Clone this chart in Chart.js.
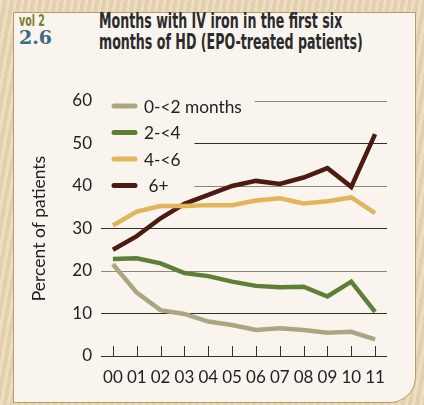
<!DOCTYPE html>
<html>
<head>
<meta charset="utf-8">
<script src="https://cdn.jsdelivr.net/npm/chart.js@4/dist/chart.umd.min.js"></script>
<style>
  html, body { margin: 0; padding: 0; }
  body {
    width: 424px; height: 405px; overflow: hidden; position: relative;
    background: #e8d6b6;
    background-image: repeating-linear-gradient(100deg, rgba(255,255,255,0.18) 0 3px, rgba(190,160,110,0.12) 3px 7px);
  }
  #panel {
    position: absolute; left: 13px; top: 12px; width: 403px; height: 391px;
    background: #f9f5ee; border: 1.5px solid #b99a6c; border-bottom-right-radius: 26px;
    box-sizing: border-box;
  }
  .cond { white-space: nowrap; transform-origin: 0 0; font-family: "Liberation Sans Narrow", "DejaVu Sans Condensed", "Roboto", sans-serif; font-weight: bold; }
  #vol { position: absolute; left: 19px; top: 12px; font-size: 15px; color: #7b7c2e; }
  #num {
    position: absolute; left: 19px; top: 26px; font-family: "DejaVu Serif", "Liberation Serif", serif;
    font-weight: bold; font-size: 19px; color: #3d6a80;
  }
  #title { position: absolute; left: 99px; top: 11px; font-size: 21px; line-height: 21px; color: #2b2b2b; }
  #c { position: absolute; left: 0; top: 0; }
</style>
</head>
<body>
<div id="panel"></div>
<div id="vol" class="cond">vol 2</div>
<div id="num">2.6</div>
<div id="title" class="cond">Months with IV iron in the first six<br>months of HD (EPO-treated patients)</div>
<canvas id="c" width="424" height="405"></canvas>
<script>
var years = ['00', '01', '02', '03', '04', '05', '06', '07', '08', '09', '10', '11'];
var under2 = [21.6, 14.9, 10.8, 9.9, 8.1, 7.3, 6.1, 6.5, 6.1, 5.5, 5.7, 3.9];
var twoTo4 = [22.8, 23.0, 21.8, 19.5, 18.8, 17.5, 16.5, 16.2, 16.3, 14.0, 17.5, 10.4];
var fourTo6 = [30.7, 34.0, 35.3, 35.3, 35.5, 35.5, 36.6, 37.1, 35.9, 36.4, 37.3, 33.6];
var sixPlus = [25.0, 28.2, 32.4, 35.8, 37.9, 40.0, 41.2, 40.5, 42.0, 44.2, 39.8, 52.2];
var seriesNames = ['0-<2 months', '2-<4', '4-<6', ' 6+'];
var seriesColors = ['#aaa684', '#5f7f36', '#e1b55a', '#4b1a10'];
var yTicks = [0, 10, 20, 30, 40, 50, 60];

// squeeze header text to the width of the original condensed face
function fitWidth(id, w) {
    var el = document.getElementById(id);
    el.style.transform = 'scaleX(' + (w / el.scrollWidth) + ')';
}
fitWidth('title', 264);
fitWidth('vol', 26);

var FONT = 'Lato, "Open Sans", sans-serif';
var TEXT = '#222222';

// legend sits inside the plot and hides the grid behind it
var insideLegend = {
    id: 'insideLegend',
    beforeDatasetsDraw: function(chart) {
        var ctx = chart.ctx;
        var area = chart.chartArea;
        var x0 = area.left + 11;
        ctx.save();
        ctx.font = '17.3px ' + FONT;
        var widths = seriesNames.map(function(n) { return ctx.measureText(n).width; });
        var rowY = function(i) { return area.top + 5 + i * 26.5; };
        var textX = x0 + 32;
        ctx.fillStyle = '#f9f5ee';
        ctx.fillRect(area.left, rowY(0) - 12, textX + widths[0] + 13 - area.left, 25);
        var w2 = Math.max(widths[1], widths[2], widths[3]);
        ctx.fillRect(area.left, rowY(1) - 13, textX + w2 + 14 - area.left, 26.5 * 3);
        for (var i = 0; i < seriesNames.length; i++) {
            var y = rowY(i);
            ctx.strokeStyle = seriesColors[i];
            ctx.lineWidth = 5;
            ctx.lineCap = 'round';
            ctx.beginPath();
            ctx.moveTo(x0 + 2, y);
            ctx.lineTo(x0 + 23, y);
            ctx.stroke();
            ctx.fillStyle = TEXT;
            ctx.textBaseline = 'middle';
            ctx.fillText(seriesNames[i], textX, y + 1);
        }
        ctx.restore();
    }
};

// small upward tick marks on the zero line
var upTicks = {
    id: 'upTicks',
    beforeDatasetsDraw: function(chart) {
        var ctx = chart.ctx;
        var xs = chart.scales.x;
        var y0 = chart.scales.y.getPixelForValue(0);
        ctx.save();
        ctx.strokeStyle = '#333333';
        ctx.lineWidth = 1;
        for (var i = 0; i < years.length; i++) {
            var x = Math.round(xs.getPixelForValue(i)) + 0.5;
            ctx.beginPath();
            ctx.moveTo(x, y0);
            ctx.lineTo(x, y0 - 10);
            ctx.stroke();
        }
        ctx.restore();
    }
};

var makeSet = function(data, i) {
    return {
        label: seriesNames[i],
        data: data,
        borderColor: seriesColors[i],
        backgroundColor: seriesColors[i],
        borderWidth: 4.5,
        pointRadius: 0,
        tension: 0,
        borderJoinStyle: 'miter'
    };
};

new Chart(document.getElementById('c'), {
    type: 'line',
    data: {
        labels: years,
        datasets: [makeSet(under2, 0), makeSet(twoTo4, 1), makeSet(fourTo6, 2), makeSet(sixPlus, 3)]
    },
    options: {
        responsive: false,
        animation: false,
        layout: { padding: { left: 22, top: 101, right: 37, bottom: 19 } },
        plugins: { legend: { display: false }, tooltip: { enabled: false } },
        scales: {
            x: {
                offset: true,
                grid: { display: false, drawTicks: false },
                border: { display: false },
                ticks: { color: TEXT, font: { family: FONT, size: 17 }, padding: 11, maxRotation: 0, autoSkip: false },
                afterFit: function(s) { s.height = 30; }
            },
            y: {
                min: 0,
                max: 60,
                afterBuildTicks: function(s) { s.ticks = yTicks.map(function(v) { return { value: v }; }); },
                grid: {
                    drawTicks: false,
                    lineWidth: 1,
                    color: function(c) {
                        var v = c.tick ? c.tick.value : 0;
                        return (v === 20 || v === 40 || v === 60) ? '#8a8680' : '#2e2e2e';
                    }
                },
                border: { display: false },
                ticks: { color: TEXT, font: { family: FONT, size: 17 }, padding: 9 },
                title: { display: true, text: 'Percent of patients', color: TEXT, font: { family: FONT, size: 17.5 }, padding: 7 },
                afterFit: function(s) { s.width = 79; }
            }
        }
    },
    plugins: [insideLegend, upTicks]
});
</script>
</body>
</html>
